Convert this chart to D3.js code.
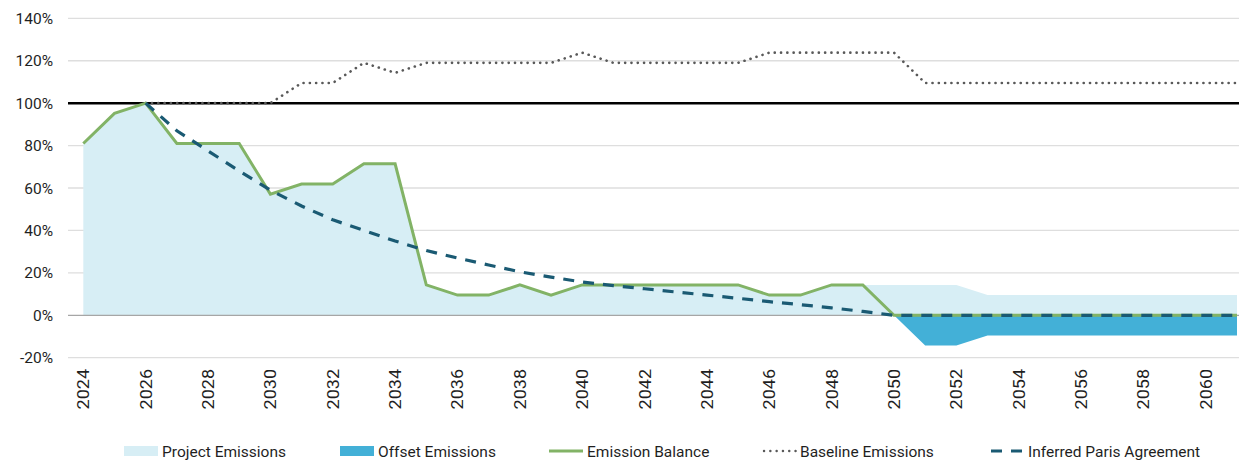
<!DOCTYPE html>
<html>
<head>
<meta charset="utf-8">
<script src="https://cdn.jsdelivr.net/npm/d3@7"></script>
<style>
  html, body { margin: 0; padding: 0; background: #fff; }
  svg { display: block; font-family: Roboto, "Noto Sans", sans-serif; }
</style>
</head>
<body>
<svg id="chart" width="1239" height="462"></svg>
<script>
const years = d3.range(2024, 2062);
const yTicks = [-20, 0, 20, 40, 60, 80, 100, 120, 140];
const xTickYears = d3.range(2024, 2062, 2);

const emissionBalance = [81.0, 95.2, 100, 81.0, 81.0, 81.0, 57.1, 61.9, 61.9, 71.4, 71.4,
  14.3, 9.5, 9.5, 14.3, 9.5, 14.3, 14.3, 14.3, 14.3, 14.3, 14.3, 9.5, 9.5, 14.3, 14.3,
  0, 0, 0, 0, 0, 0, 0, 0, 0, 0, 0, 0];
const projectEmissions = [81.0, 95.2, 100, 81.0, 81.0, 81.0, 57.1, 61.9, 61.9, 71.4, 71.4,
  14.3, 9.5, 9.5, 14.3, 9.5, 14.3, 14.3, 14.3, 14.3, 14.3, 14.3, 9.5, 9.5, 14.3, 14.3,
  14.3, 14.3, 14.3, 9.5, 9.5, 9.5, 9.5, 9.5, 9.5, 9.5, 9.5, 9.5];
const offsetEmissions = [0, 0, 0, 0, 0, 0, 0, 0, 0, 0, 0, 0, 0, 0, 0, 0, 0, 0, 0, 0, 0, 0, 0, 0, 0, 0,
  0, -14.3, -14.3, -9.5, -9.5, -9.5, -9.5, -9.5, -9.5, -9.5, -9.5, -9.5];
const baselineEmissions = [null, null, 100, 100, 100, 100, 100, 109.5, 109.5, 119, 114.3,
  119, 119, 119, 119, 119, 123.8, 119, 119, 119, 119, 119, 123.8, 123.8, 123.8, 123.8, 123.8,
  109.5, 109.5, 109.5, 109.5, 109.5, 109.5, 109.5, 109.5, 109.5, 109.5, 109.5];
const parisAgreement = [null, null, 100, 87, 77.5, 68, 59, 51.5, 45, 40, 35, 30.5, 27, 23.7,
  20.5, 18, 15.7, 14, 12.5, 11, 9.5, 8, 6.4, 5, 3.5, 1.8, 0,
  0, 0, 0, 0, 0, 0, 0, 0, 0, 0, 0];

const legendItems = [
  {label: "Project Emissions", type: "rect", color: "#d7eef5", x: 124},
  {label: "Offset Emissions", type: "rect", color: "#43b0d7", x: 340},
  {label: "Emission Balance", type: "line", color: "#82b366", x: 549},
  {label: "Baseline Emissions", type: "dot", color: "#595959", x: 762},
  {label: "Inferred Paris Agreement", type: "dash", color: "#1a5a73", x: 990}
];

const colors = {project: "#d7eef5", offset: "#43b0d7", balance: "#82b366", baseline: "#595959", paris: "#1a5a73"};

const svg = d3.select("#chart");
const plotLeft = 68, plotRight = 1239;
const x = d3.scaleLinear().domain([2024, 2061]).range([83.3, 1237]);
const y = d3.scaleLinear().domain([-20, 140]).range([357.7, 18.3]);

const data = years.map((yr, i) => ({
  year: yr, balance: emissionBalance[i], project: projectEmissions[i], offset: offsetEmissions[i],
  baseline: baselineEmissions[i], paris: parisAgreement[i]
}));

// gridlines
svg.append("g").selectAll("line").data(yTicks.filter(t => t !== 0 && t !== 100)).join("line")
  .attr("x1", plotLeft).attr("x2", plotRight)
  .attr("y1", d => y(d)).attr("y2", d => y(d))
  .attr("stroke", "#dedede").attr("stroke-width", 1.3);

// y labels
svg.append("g").selectAll("text").data(yTicks).join("text")
  .attr("x", 53).attr("y", d => y(d)).attr("dy", "0.36em")
  .attr("text-anchor", "end").attr("font-size", 15.5).attr("fill", "#1f1f1f")
  .text(d => d + "%");

// project area
svg.append("path").datum(data)
  .attr("d", d3.area().x(d => x(d.year)).y0(y(0)).y1(d => y(d.project)))
  .attr("fill", colors.project);

// offset area
svg.append("path").datum(data.filter(d => d.year >= 2050))
  .attr("d", d3.area().x(d => x(d.year)).y0(y(0)).y1(d => y(d.offset)))
  .attr("fill", colors.offset);

// zero line
svg.append("line").attr("x1", plotLeft).attr("x2", plotRight)
  .attr("y1", y(0)).attr("y2", y(0)).attr("stroke", "#a6a6a6").attr("stroke-width", 1.3);

// 100% line
svg.append("line").attr("x1", plotLeft).attr("x2", plotRight)
  .attr("y1", y(100)).attr("y2", y(100)).attr("stroke", "#000").attr("stroke-width", 2.5);

// baseline dotted
svg.append("path").datum(data)
  .attr("d", d3.line().defined(d => d.baseline != null).x(d => x(d.year)).y(d => y(d.baseline)))
  .attr("fill", "none").attr("stroke", colors.baseline).attr("stroke-width", 2.6)
  .attr("stroke-linecap", "round").attr("stroke-dasharray", "0.1,6.2");

// balance line
svg.append("path").datum(data)
  .attr("d", d3.line().x(d => x(d.year)).y(d => y(d.balance)))
  .attr("fill", "none").attr("stroke", colors.balance).attr("stroke-width", 3)
  .attr("stroke-linejoin", "miter");

// paris dashed
svg.append("path").datum(data)
  .attr("d", d3.line().defined(d => d.paris != null).x(d => x(d.year)).y(d => y(d.paris)))
  .attr("fill", "none").attr("stroke", colors.paris).attr("stroke-width", 3.2)
  .attr("stroke-dasharray", "11,9");

// x labels
svg.append("g").selectAll("text").data(xTickYears).join("text")
  .attr("transform", d => `translate(${x(d)},369) rotate(-90) scale(1,0.92)`)
  .attr("text-anchor", "end").attr("dy", "0.36em")
  .attr("font-size", 18).attr("fill", "#1f1f1f")
  .text(d => d);

// legend
const ly = 451;
const lg = svg.append("g");
legendItems.forEach(item => {
  if (item.type === "rect") {
    lg.append("rect").attr("x", item.x).attr("y", ly - 5).attr("width", 34).attr("height", 10).attr("fill", item.color);
  } else {
    const l = lg.append("line").attr("x1", item.x).attr("x2", item.x + 34).attr("y1", ly).attr("y2", ly)
      .attr("stroke", item.color);
    if (item.type === "line") l.attr("stroke-width", 3);
    if (item.type === "dot") l.attr("stroke-width", 2.4).attr("stroke-linecap", "round").attr("stroke-dasharray", "0.1,6.2").attr("x1", item.x + 2);
    if (item.type === "dash") l.attr("stroke-width", 3).attr("stroke-dasharray", "11,9").attr("x1", item.x + 1);
  }
  lg.append("text").attr("x", item.x + 38).attr("y", ly).attr("dy", "0.36em")
    .attr("font-size", 15.5).attr("fill", "#1f1f1f").text(item.label);
});
</script>
</body>
</html>
